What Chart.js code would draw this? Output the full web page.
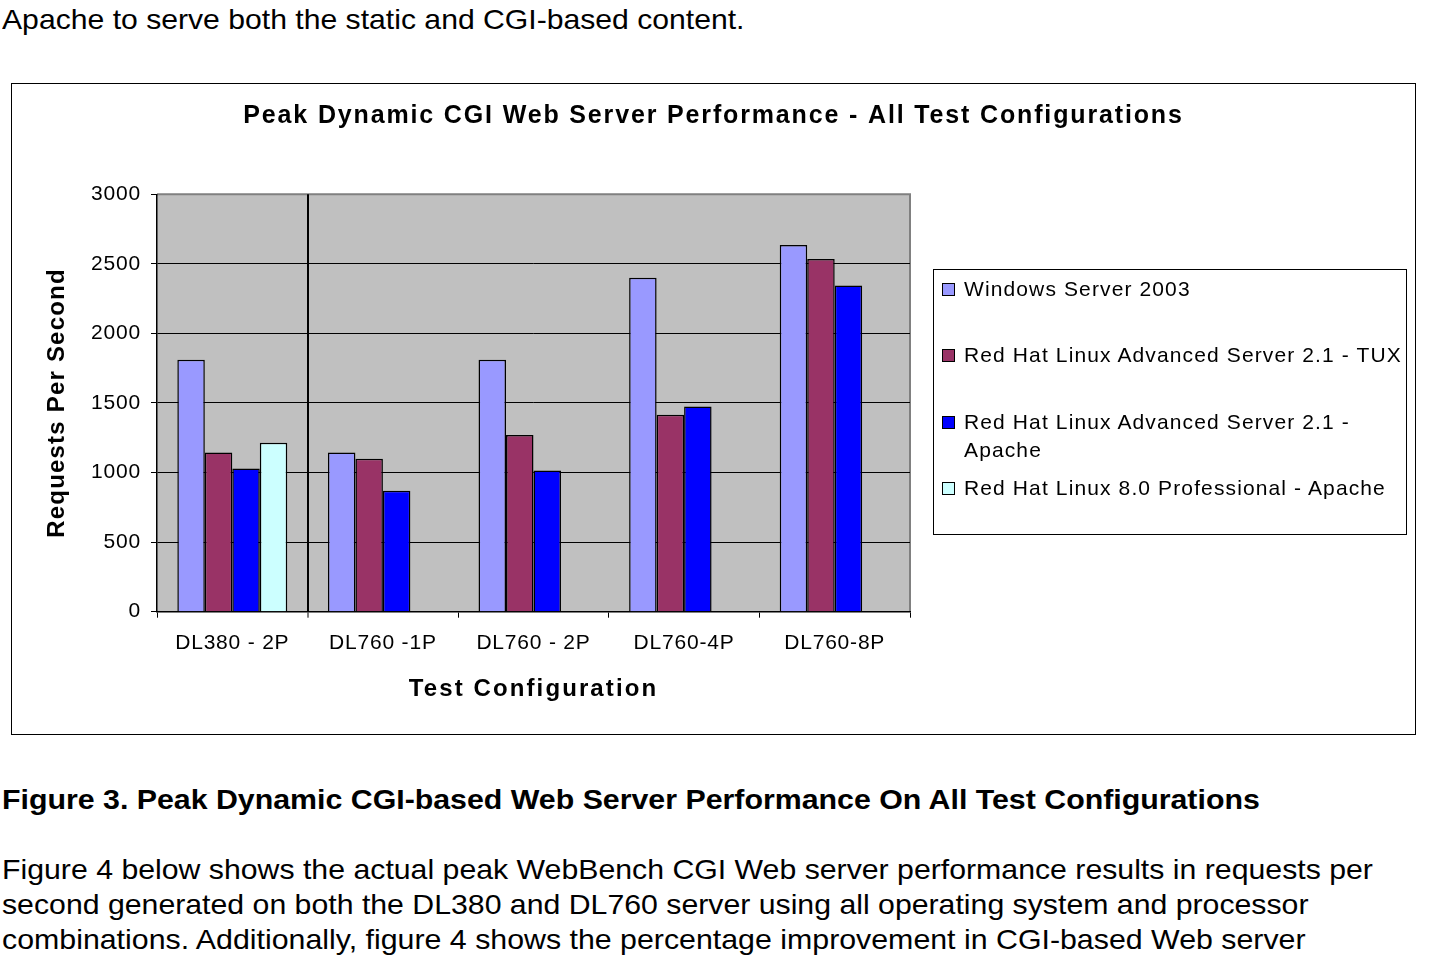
<!DOCTYPE html>
<html>
<head>
<meta charset="utf-8">
<title>Peak Dynamic CGI Web Server Performance</title>
<script src="https://cdn.jsdelivr.net/npm/chart.js@4.4.1/dist/chart.umd.min.js"></script>
<style>
  body { margin: 0; background: #fff; font-family: "Liberation Sans", Arial, sans-serif; color: #000; }
  .line { position: absolute; left: 2px; font-size: 28px; line-height: 28px; white-space: nowrap; transform-origin: 0 0; }
  .bold { font-weight: bold; }
  #chartBox { position: absolute; left: 11px; top: 83px; width: 1403px; height: 650px; border: 1px solid #000; }
  #chartBox canvas { position: absolute; left: 0; top: 0; }
  #legend { position: absolute; left: 921px; top: 185px; width: 472px; height: 264px; border: 1px solid #000; background: #fff; }
  .item { position: absolute; left: 30px; width: 445px; font-size: 21px; line-height: 28px; letter-spacing: 1.12px; }
  .swatch { position: absolute; left: -22px; top: 8px; width: 11px; height: 11px; border: 1.5px solid #000; }
</style>
</head>
<body>

<div class="line" style="top:6px" data-w="743">Apache to serve both the static and CGI-based content.</div>

<div id="chartBox">
  <canvas id="cgiChart" width="1403" height="650"></canvas>
  <div id="legend"></div>
</div>

<div class="line bold" style="top:786px" data-w="1258">Figure 3. Peak Dynamic CGI-based Web Server Performance On All Test Configurations</div>
<div class="line" style="top:856px" data-w="1371">Figure 4 below shows the actual peak WebBench CGI Web server performance results in requests per</div>
<div class="line" style="top:891px" data-w="1306">second generated on both the DL380 and DL760 server using all operating system and processor</div>
<div class="line" style="top:926px" data-w="1304">combinations. Additionally, figure 4 shows the percentage improvement in CGI-based Web server</div>

<script>
// データ
const configs = ['DL380 - 2P', 'DL760 -1P', 'DL760 - 2P', 'DL760-4P', 'DL760-8P'];
const seriesNames = [
    'Windows Server 2003',
    'Red Hat Linux Advanced Server 2.1 - TUX',
    'Red Hat Linux Advanced Server 2.1 - Apache',
    'Red Hat Linux 8.0 Professional - Apache'
];
const windows2003 = [1810, 1145, 1810, 2400, 2635];
const rhasTux = [1145, 1100, 1270, 1415, 2535];
const rhasApache = [1030, 870, 1015, 1475, 2345];
const rh8Apache = [1215, null, null, null, null];
const seriesColors = ['#9999FF', '#993366', '#0000FF', '#CCFFFF'];

const chartTitle = 'Peak Dynamic CGI Web Server Performance - All Test Configurations';
const yTitle = 'Requests Per Second';
const xTitle = 'Test Configuration';

// テキスト幅を元の画像に合わせる
document.querySelectorAll('.line').forEach(el => {
    const target = parseFloat(el.dataset.w);
    const actual = el.scrollWidth;
    el.style.transform = 'scaleX(' + (target / actual) + ')';
});

Chart.defaults.font.family = '"Liberation Sans", Arial, sans-serif';
Chart.defaults.color = '#000';

// 文字間隔を変えて描く
function spaced(obj, method, spacing) {
    if (!obj || obj['_sp_' + method]) return;
    const orig = obj[method];
    obj[method] = function() {
        const prev = this.ctx.letterSpacing;
        this.ctx.letterSpacing = spacing;
        orig.apply(this, arguments);
        this.ctx.letterSpacing = prev;
    };
    obj['_sp_' + method] = true;
}

// 文字間隔とプロットエリアの背景
const excelLook = {
    id: 'excelLook',
    beforeLayout(chart) { chart.ctx.letterSpacing = '0.8px'; },
    beforeDraw(chart) {
        const ctx = chart.ctx;
        const a = chart.chartArea;
        ctx.letterSpacing = '0.8px';
        spaced(chart.titleBlock, 'draw', '1.85px');
        spaced(chart.scales.x, 'drawTitle', '2.1px');
        spaced(chart.scales.y, 'drawTitle', '1.2px');
        ctx.save();
        ctx.fillStyle = '#C0C0C0';
        ctx.fillRect(a.left, a.top, a.right - a.left, a.bottom - a.top);
        ctx.strokeStyle = '#808080';
        ctx.lineWidth = 2;
        ctx.beginPath();
        ctx.moveTo(a.left, a.top);
        ctx.lineTo(a.right, a.top);
        ctx.lineTo(a.right, a.bottom);
        ctx.stroke();
        ctx.restore();
    }
};

const allData = [windows2003, rhasTux, rhasApache, rh8Apache];

const chart = new Chart(document.getElementById('cgiChart'), {
    type: 'bar',
    data: {
        labels: configs,
        datasets: allData.map((d, i) => ({
            label: seriesNames[i],
            data: d,
            backgroundColor: seriesColors[i],
            borderColor: '#000',
            borderWidth: 1.5,
            categoryPercentage: 0.73,
            barPercentage: 1
        }))
    },
    options: {
        responsive: false,
        animation: false,
        layout: { padding: 0 },
        plugins: {
            legend: { display: false },
            tooltip: { enabled: false },
            title: {
                display: true,
                text: chartTitle,
                font: { size: 25, weight: 'bold' },
                padding: { top: 17, bottom: 63.3 }
            }
        },
        scales: {
            x: {
                grid: {
                    offset: true,
                    color: c => c.index === 1 ? '#000' : 'rgba(0,0,0,0)',
                    lineWidth: c => c.index === 1 ? 2 : 1,
                    tickColor: '#000',
                    tickWidth: 1,
                    tickLength: 6
                },
                border: { color: '#000', width: 1.5 },
                ticks: { font: { size: 21 }, padding: 13, maxRotation: 0 },
                title: {
                    display: true,
                    text: xTitle,
                    font: { size: 24, weight: 'bold' },
                    padding: { top: 0, bottom: 30 }
                },
                afterFit: s => { s.height = 122.3; }
            },
            y: {
                min: 0,
                max: 3000,
                ticks: { stepSize: 500, font: { size: 21 }, padding: 10, callback: v => String(v) },
                grid: {
                    color: c => (c.tick && c.tick.value === 3000) ? 'rgba(0,0,0,0)' : '#000',
                    tickColor: '#000',
                    tickLength: 6
                },
                border: { color: '#000', width: 1.5 },
                title: {
                    display: true,
                    text: yTitle,
                    font: { size: 24, weight: 'bold' },
                    padding: { top: 30.6, bottom: 0 }
                },
                afterFit: s => { s.width = 145; }
            },
            // 右側の凡例スペース
            space: {
                position: 'right',
                display: true,
                grid: { drawOnChartArea: false, drawTicks: false },
                border: { display: false },
                ticks: { display: false },
                afterFit: s => { s.width = 505; }
            }
        }
    },
    plugins: [excelLook]
});

// 凡例を作る
const legendEl = document.getElementById('legend');
const legendTops = [4.75, 70.75, 137.75, 203.75];
chart.data.datasets.forEach((ds, i) => {
    const item = document.createElement('div');
    item.className = 'item';
    item.style.top = legendTops[i] + 'px';
    const sw = document.createElement('span');
    sw.className = 'swatch';
    sw.style.background = ds.backgroundColor;
    item.appendChild(sw);
    item.appendChild(document.createTextNode(ds.label));
    legendEl.appendChild(item);
});
</script>
</body>
</html>
